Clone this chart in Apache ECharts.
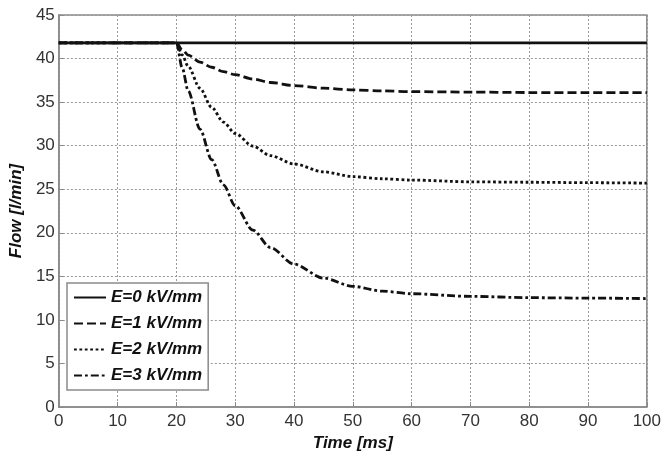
<!DOCTYPE html>
<html>
<head>
<meta charset="utf-8">
<script src="https://cdn.jsdelivr.net/npm/echarts@6/dist/echarts.min.js"></script>
<style>
  html, body { margin: 0; padding: 0; background: #fff; }
  #chart { width: 664px; height: 457px; }
</style>
</head>
<body>
<div id="chart"></div>
<script>
// Flow response after a field step at t = 20 ms
const timeMs = [0, 20, 21, 22, 24, 26, 28, 30, 33, 36, 40, 45, 50, 55, 60, 70, 80, 90, 100];
const flowE0 = [41.8, 41.8, 41.8, 41.8, 41.8, 41.8, 41.8, 41.8, 41.8, 41.8, 41.8, 41.8, 41.8, 41.8, 41.8, 41.8, 41.8, 41.8, 41.8];
const flowE1 = [41.8, 41.8, 41.0, 40.4, 39.6, 39.0, 38.5, 38.15, 37.65, 37.25, 36.9, 36.6, 36.4, 36.3, 36.2, 36.15, 36.1, 36.1, 36.1];
const flowE2 = [41.8, 41.8, 40.4, 39.1, 36.6, 34.4, 32.7, 31.4, 29.95, 28.85, 27.9, 27.0, 26.45, 26.2, 26.05, 25.85, 25.8, 25.75, 25.7];
const flowE3 = [41.8, 41.8, 38.9, 36.3, 31.9, 28.4, 25.5, 23.1, 20.3, 18.3, 16.4, 14.8, 13.85, 13.3, 13.0, 12.7, 12.55, 12.5, 12.45];
const seriesNames = ['E=0 kV/mm', 'E=1 kV/mm', 'E=2 kV/mm', 'E=3 kV/mm'];

const pairs = vals => timeMs.map((t, i) => [t, vals[i]]);

const font = 'Liberation Sans, Arial, sans-serif';
const ink = '#111';
const frame = '#8a8a8a';

const lineStyles = [
  { width: 2.8, type: 'solid' },
  { width: 2.8, type: [9, 4] },
  { width: 2.8, type: [2.8, 2.6] },
  { width: 2.8, type: [8, 3, 2.8, 3] }
];
const datasets = [flowE0, flowE1, flowE2, flowE3];

const chart = echarts.init(document.getElementById('chart'), null, { renderer: 'canvas' });
chart.setOption({
  backgroundColor: '#fff',
  animation: false,
  grid: {
    left: 58, right: 16, top: 15, bottom: 50,
    show: true, borderColor: frame, borderWidth: 1.5, backgroundColor: '#fff'
  },
  xAxis: {
    type: 'value', min: 0, max: 100, interval: 10,
    name: 'Time [ms]', nameLocation: 'middle', nameGap: 26,
    nameTextStyle: { fontFamily: font, fontSize: 17, fontWeight: 'bold', fontStyle: 'italic', color: ink },
    axisLine: { show: true, lineStyle: { color: frame, width: 1.5 } },
    axisTick: { show: true, inside: true, length: 5, lineStyle: { color: frame } },
    axisLabel: { fontFamily: font, fontSize: 17, color: '#333', margin: 6 },
    splitLine: { show: true, lineStyle: { color: '#999', width: 1, type: [2, 2] } }
  },
  yAxis: {
    type: 'value', min: 0, max: 45, interval: 5,
    name: 'Flow [l/min]', nameLocation: 'middle', nameGap: 30, nameRotate: 90,
    nameTextStyle: { fontFamily: font, fontSize: 17, fontWeight: 'bold', fontStyle: 'italic', color: ink },
    axisLine: { show: true, lineStyle: { color: frame, width: 1.5 } },
    axisTick: { show: true, inside: true, length: 5, lineStyle: { color: frame } },
    axisLabel: { fontFamily: font, fontSize: 17, color: '#333', margin: 4 },
    splitLine: { show: true, lineStyle: { color: '#999', width: 1, type: [2, 2] } }
  },
  legend: {
    orient: 'vertical', left: 67, top: 283,
    backgroundColor: '#fff', borderColor: frame, borderWidth: 1.5,
    padding: [6, 6, 6, 6], itemGap: 9, itemWidth: 32, itemHeight: 14,
    itemStyle: { opacity: 0 },
    textStyle: { fontFamily: font, fontSize: 17, fontWeight: 'bold', fontStyle: 'italic', color: ink },
    data: seriesNames
  },
  series: seriesNames.map((name, k) => ({
    name,
    type: 'line',
    data: pairs(datasets[k]),
    showSymbol: false,
    symbol: 'none',
    smooth: 0.3,
    smoothMonotone: 'x',
    color: ink,
    lineStyle: Object.assign({ color: ink }, lineStyles[k]),
    // the solid baseline is drawn over the others where they coincide
    z: k === 0 ? 4 : 3
  }))
});
</script>
</body>
</html>
